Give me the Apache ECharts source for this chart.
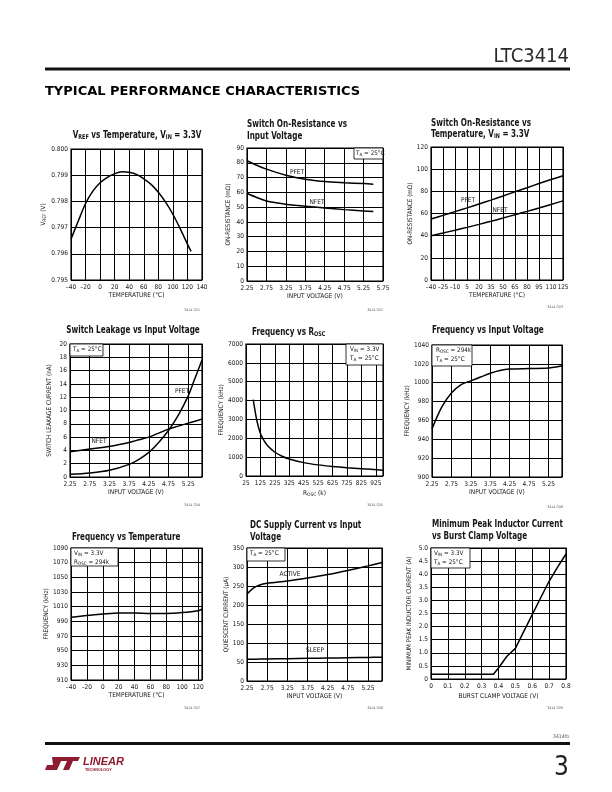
<!DOCTYPE html>
<html>
<head>
<meta charset="utf-8">
<title>LTC3414 Typical Performance Characteristics</title>
<script src="https://cdn.jsdelivr.net/npm/echarts@6/dist/echarts.min.js"></script>
<style>
  html, body { margin: 0; padding: 0; background: #fff; }
  #page { width: 612px; height: 792px; }
</style>
</head>
<body>
<div id="page"></div>
<script>
  // ---- data ----
  // G01 VREF vs temperature
  var g01Temp = [-40, -30, -20, -10, 0, 10, 20, 30, 40, 50, 60, 70, 80, 90, 100, 110, 120, 125];
  var g01Vref = [0.79656, 0.79725, 0.79792, 0.79839, 0.79871, 0.79892, 0.79906, 0.79913, 0.79911, 0.79903,
    0.79886, 0.79865, 0.79835, 0.79797, 0.79751, 0.79696, 0.79637, 0.79609];

  // G02 on-resistance vs input voltage
  var g02Vin = [2.25, 2.5, 2.75, 3.0, 3.25, 3.5, 3.75, 4.25, 4.75, 5.25, 5.5];
  var g02Pfet = [81.4, 78.3, 75.7, 73.5, 71.6, 70.1, 68.9, 67.3, 66.5, 65.9, 65.5];
  var g02Nfet = [59.4, 56.5, 54.2, 52.9, 51.9, 51.2, 50.6, 49.4, 48.3, 47.4, 47.0];

  // G03 on-resistance vs temperature
  var g03Temp = [-40, -25, -10, 5, 20, 35, 50, 65, 80, 95, 110, 125];
  var g03Pfet = [55, 58.3, 61.7, 65.1, 68.6, 72.1, 75.8, 79.6, 83.3, 87, 90.6, 94];
  var g03Nfet = [40, 42.4, 44.9, 47.5, 50.2, 53, 55.9, 58.9, 61.9, 65, 68.2, 71.4];

  // G04 switch leakage vs input voltage
  var g04Vin = [2.25, 2.75, 3.25, 3.75, 4.0, 4.25, 4.5, 4.75, 5.0, 5.25, 5.4, 5.6];
  var g04Pfet = [0.4, 0.6, 1.0, 1.9, 2.65, 3.7, 5.2, 7.0, 9.3, 12.2, 14.5, 17.6];
  var g04Nfet = [3.8, 4.2, 4.6, 5.2, 5.6, 6.0, 6.6, 7.2, 7.65, 8.1, 8.35, 8.7];

  // G05 frequency vs ROSC
  var g05Rosc = [75, 100, 125, 150, 175, 225, 275, 325, 425, 525, 625, 725, 825, 975];
  var g05Freq = [4050, 2950, 2250, 1870, 1600, 1260, 1050, 900, 710, 590, 505, 440, 390, 300];

  // G06 frequency vs input voltage
  var g06Vin = [2.25, 2.5, 2.75, 3.0, 3.25, 3.5, 3.75, 4.0, 4.25, 4.75, 5.25, 5.6];
  var g06Freq = [951, 974, 989, 998, 1002, 1006, 1010, 1013, 1014.5, 1015, 1015.5, 1018];

  // G07 frequency vs temperature
  var g07Temp = [-40, -20, 0, 20, 40, 60, 80, 100, 120, 125];
  var g07Freq = [995.5, 998, 1000, 1001.5, 1001.5, 1000.8, 1000.8, 1002, 1004.5, 1006.5];

  // G08 quiescent current vs input voltage
  var g08Vin = [2.25, 2.4, 2.55, 2.75, 3.25, 3.75, 4.25, 4.75, 5.25, 5.6];
  var g08Active = [229, 244, 252, 257, 263, 271, 280, 291, 303, 312];
  var g08Sleep = [57, 57.3, 57.6, 58, 58.8, 59.6, 60.4, 61.2, 62, 62.6];

  // G09 minimum peak inductor current vs burst clamp voltage
  var g09Vbc = [0, 0.1, 0.2, 0.3, 0.37, 0.4, 0.45, 0.5, 0.55, 0.6, 0.65, 0.7, 0.75, 0.8];
  var g09Ipk = [0.18, 0.18, 0.18, 0.18, 0.18, 0.42, 0.87, 1.17, 1.82, 2.46, 3.1, 3.73, 4.27, 4.77];

  // axis ranges [min, max, step]
  var xRanges = [[-40, 140, 20], [2.25, 5.75, 0.5], [-40, 125, 15], [2.25, 5.6, 0.5], [25, 975, 100],
    [2.25, 5.6, 0.5], [-40, 125, 20], [2.25, 5.6, 0.5], [0, 0.8, 0.1]];
  var yRanges = [[0.795, 0.800, 0.001], [0, 90, 10], [0, 120, 20], [0, 20, 2], [0, 7000, 1000],
    [900, 1040, 20], [910, 1090, 20], [0, 350, 50], [0, 5, 0.5]];

  var xNames = ['TEMPERATURE (°C)', 'INPUT VOLTAGE (V)', 'TEMPERATURE (°C)', 'INPUT VOLTAGE (V)', 'R{s|OSC} (k)',
    'INPUT VOLTAGE (V)', 'TEMPERATURE (°C)', 'INPUT VOLTAGE (V)', 'BURST CLAMP VOLTAGE (V)'];
  var yNames = ['V{s|REF} (V)', 'ON-RESISTANCE (mΩ)', 'ON-RESISTANCE (mΩ)', 'SWITCH LEAKAGE CURRENT (nA)',
    'FREQUENCY (kHz)', 'FREQUENCY (kHz)', 'FREQUENCY (kHz)', 'QUIESCENT CURRENT (µA)',
    'MINIMUM PEAK INDUCTOR CURRENT (A)'];

  var FONT = '"Liberation Sans Narrow", "DejaVu Sans Condensed", "Liberation Sans", sans-serif';
  var INK = '#151515';

  // plot boxes
  var boxes = [
    [71, 149, 131, 131], [247, 148, 136, 133], [431, 147, 132, 133],
    [70, 344, 132, 133], [246, 344, 137, 132], [432, 345, 130, 132],
    [71, 548, 131, 132], [247, 548, 135, 133], [431, 548, 135, 131]
  ];
  var yNameGap = [21, 16, 16, 18, 17, 21, 21, 15, 19];
  var xNameGap = [12, 12, 12, 11, 13, 11, 11, 12, 14];

  function pairs(xs, ys) {
    var out = [];
    for (var i = 0; i < xs.length; i++) out.push([xs[i], ys[i]]);
    return out;
  }

  function dash(v) { return String(v).replace('-', '–'); }

  // label text for each chart's x axis, blank at an off-step max
  function xLabel(i) {
    var r = xRanges[i];
    return function (v) {
      var steps = (r[1] - r[0]) / r[2];
      if (v === r[1] && Math.abs(steps - Math.round(steps)) > 1e-6) return '';
      if (i === 1 || i === 3 || i === 5 || i === 7) return v.toFixed(2);
      if (i === 8) return v === 0 ? '0' : v.toFixed(1);
      return dash(v);
    };
  }
  function yLabel(i) {
    return function (v) {
      if (i === 0) return v.toFixed(3);
      if (i === 8) return v === 0 ? '0' : v.toFixed(1);
      return String(v);
    };
  }

  var subRich = { s: { fontSize: 4.8, fontFamily: FONT, color: INK, padding: [3, 0, 0, 0] } };

  var grids = [], xAxes = [], yAxes = [];
  for (var i = 0; i < 9; i++) {
    var b = boxes[i];
    grids.push({ left: b[0], top: b[1], width: b[2], height: b[3], show: true,
      borderColor: '#000', borderWidth: 1.2, containLabel: false });
    xAxes.push({
      type: 'value', gridIndex: i, min: xRanges[i][0], max: xRanges[i][1], interval: xRanges[i][2],
      name: xNames[i], nameLocation: 'middle', nameGap: xNameGap[i],
      nameTextStyle: { fontFamily: FONT, fontSize: 6.5, color: INK, rich: subRich },
      axisLine: { show: false }, axisTick: { show: false },
      axisLabel: { fontFamily: FONT, fontSize: 6.5, color: INK, margin: 4, formatter: xLabel(i) },
      splitLine: { show: true, lineStyle: { color: '#000', width: 1 } }
    });
    yAxes.push({
      type: 'value', gridIndex: i, min: yRanges[i][0], max: yRanges[i][1], interval: yRanges[i][2],
      name: yNames[i], nameLocation: 'middle', nameGap: yNameGap[i], nameRotate: 90,
      nameTextStyle: { fontFamily: FONT, fontSize: 6.3, color: INK, rich: subRich },
      axisLine: { show: false }, axisTick: { show: false },
      axisLabel: { fontFamily: FONT, fontSize: 6.5, color: INK, margin: 3, formatter: yLabel(i) },
      splitLine: { show: true, lineStyle: { color: '#000', width: 1 } }
    });
  }

  function curve(i, xs, ys, smooth) {
    return {
      type: 'line', xAxisIndex: i, yAxisIndex: i, data: pairs(xs, ys),
      symbol: 'none', smooth: smooth === false ? false : 0.3,
      lineStyle: { color: '#000', width: 1.5 }, z: 5, silent: true
    };
  }

  var series = [
    curve(0, g01Temp, g01Vref),
    curve(1, g02Vin, g02Pfet), curve(1, g02Vin, g02Nfet),
    curve(2, g03Temp, g03Pfet), curve(2, g03Temp, g03Nfet),
    curve(3, g04Vin, g04Pfet), curve(3, g04Vin, g04Nfet),
    curve(4, g05Rosc, g05Freq),
    curve(5, g06Vin, g06Freq),
    curve(6, g07Temp, g07Freq),
    curve(7, g08Vin, g08Active), curve(7, g08Vin, g08Sleep),
    curve(8, g09Vbc, g09Ipk, false)
  ];

  // ---- text helpers for the graphic layer ----
  function font(size, weight) { return (weight || 'normal') + ' ' + size + 'px ' + FONT; }
  function txt(x, y, text, size, opt) {
    opt = opt || {};
    var subSize = opt.sub || size * 0.68;
    return {
      type: 'text', x: x, y: y, z: 100, silent: true, scaleX: opt.sx || 1,
      style: {
        text: text, font: font(size, opt.weight), fill: opt.color || INK,
        align: opt.align || 'left', verticalAlign: opt.valign || 'middle',
        lineHeight: opt.lineHeight,
        rich: {
          n: { font: font(size, opt.weight), fill: opt.color || INK, lineHeight: opt.lineHeight },
          s: { font: font(subSize, opt.weight), fill: opt.color || INK, padding: [size * 0.45, 0, 0, 0],
            lineHeight: opt.lineHeight }
        }
      }
    };
  }
  function noteBox(x, y, w, h, lines, tx) {
    var els = [{ type: 'rect', z: 90, silent: true, shape: { x: x, y: y, width: w, height: h },
      style: { fill: '#fff', stroke: '#000', lineWidth: 0.8 } }];
    for (var k = 0; k < lines.length; k++) {
      els.push(txt(tx, y + 5.5 + k * 8.5, lines[k], 6.3, { sub: 4.6 }));
    }
    return els;
  }

  var graphics = [];
  // page header
  graphics.push(txt(569, 57, 'LTC3414', 20, { align: 'right', color: '#2a2a2a' }));
  graphics.push({ type: 'rect', z: 100, shape: { x: 45, y: 67.5, width: 525, height: 3 }, style: { fill: '#111' } });
  graphics.push({ type: 'text', x: 45, y: 92, z: 100,
    style: { text: 'TYPICAL PERFORMANCE CHARACTERISTICS', font: 'bold 13px "DejaVu Sans", sans-serif',
      fill: '#000', verticalAlign: 'middle' } });

  // chart titles (squeezed to the datasheet's condensed face)
  var TS = 9.6, SX = 0.84;
  graphics.push(txt(137, 135, 'V{s|REF} vs Temperature, V{s|IN} = 3.3V', TS, { weight: 'bold', align: 'center', sx: SX }));
  graphics.push(txt(247, 118, 'Switch On-Resistance vs\nInput Voltage', TS, { weight: 'bold', valign: 'top', lineHeight: 12, sx: SX }));
  graphics.push(txt(431, 118, 'Switch On-Resistance vs\nTemperature, V{s|IN} = 3.3V', TS, { weight: 'bold', valign: 'top', lineHeight: 11, sx: SX }));
  graphics.push(txt(133, 330, 'Switch Leakage vs Input Voltage', TS, { weight: 'bold', align: 'center', sx: SX }));
  graphics.push(txt(252, 332, 'Frequency vs R{s|OSC}', TS, { weight: 'bold', sx: SX }));
  graphics.push(txt(432, 330, 'Frequency vs Input Voltage', TS, { weight: 'bold', sx: SX }));
  graphics.push(txt(72, 537, 'Frequency vs Temperature', TS, { weight: 'bold', sx: SX }));
  graphics.push(txt(250, 519, 'DC Supply Current vs Input\nVoltage', TS, { weight: 'bold', valign: 'top', lineHeight: 12, sx: SX }));
  graphics.push(txt(432, 518, 'Minimum Peak Inductor Current\nvs Burst Clamp Voltage', TS, { weight: 'bold', valign: 'top', lineHeight: 12, sx: SX }));

  // condition boxes
  graphics = graphics.concat(noteBox(354, 148, 29, 11, ['T{s|A} = 25°C'], 356));
  graphics = graphics.concat(noteBox(70, 344, 33, 12, ['T{s|A} = 25°C'], 73));
  graphics = graphics.concat(noteBox(346, 344, 37, 21, ['V{s|IN} = 3.3V', 'T{s|A} = 25°C'], 350));
  graphics = graphics.concat(noteBox(432, 345, 40, 21, ['R{s|OSC} = 294k', 'T{s|A} = 25°C'], 436));
  graphics = graphics.concat(noteBox(71, 548, 47, 18, ['V{s|IN} = 3.3V', 'R{s|OSC} = 294k'], 74));
  graphics = graphics.concat(noteBox(247, 548, 38, 13, ['T{s|A} = 25°C'], 250));
  graphics = graphics.concat(noteBox(431, 548, 39, 20, ['V{s|IN} = 3.3V', 'T{s|A} = 25°C'], 434));

  // curve labels
  graphics.push(txt(297, 172, 'PFET', 6.5, { align: 'center' }));
  graphics.push(txt(317, 202, 'NFET', 6.5, { align: 'center' }));
  graphics.push(txt(468, 200, 'PFET', 6.5, { align: 'center' }));
  graphics.push(txt(500, 210, 'NFET', 6.5, { align: 'center' }));
  graphics.push(txt(182, 391, 'PFET', 6.5, { align: 'center' }));
  graphics.push(txt(99, 441, 'NFET', 6.5, { align: 'center' }));
  graphics.push(txt(290, 574, 'ACTIVE', 6.5, { align: 'center' }));
  graphics.push(txt(315, 650, 'SLEEP', 6.5, { align: 'center' }));

  // figure numbers
  var figIds = [[200, 310, 'G01'], [383, 310, 'G02'], [563, 307, 'G03'], [200, 505, 'G04'], [383, 505, 'G05'],
    [563, 507, 'G06'], [200, 708, 'G07'], [383, 708, 'G08'], [563, 708, 'G09']];
  for (var f = 0; f < figIds.length; f++) {
    graphics.push(txt(figIds[f][0], figIds[f][1], '3414 ' + figIds[f][2], 3.6, { align: 'right', color: '#666' }));
  }

  // page footer
  graphics.push(txt(569, 737, '3414fb', 5, { align: 'right', color: '#555' }));
  graphics.push({ type: 'rect', z: 100, shape: { x: 45, y: 742, width: 525, height: 3 }, style: { fill: '#111' } });
  graphics.push(txt(569, 768, '3', 26, { align: 'right', color: '#222' }));
  // Linear Technology mark (rough)
  graphics.push({ type: 'polygon', z: 100, shape: { points: [[52, 757], [63, 757], [57, 770], [45, 770], [47, 765], [53, 765]] },
    style: { fill: '#8e1b2f' } });
  graphics.push({ type: 'polygon', z: 100, shape: { points: [[62, 757], [80, 757], [78, 761], [73, 761], [69, 770], [63, 770], [67, 761], [60, 761]] },
    style: { fill: '#8e1b2f' } });
  graphics.push({ type: 'text', x: 83, y: 762, z: 100,
    style: { text: 'LINEAR', font: 'italic bold 11px "Liberation Sans Narrow", sans-serif', fill: '#8e1b2f', verticalAlign: 'middle' } });
  graphics.push({ type: 'text', x: 85, y: 769.5, z: 100,
    style: { text: 'TECHNOLOGY', font: 'bold 3.8px "Liberation Sans", sans-serif', fill: '#8e1b2f', verticalAlign: 'middle' } });

  var chart = echarts.init(document.getElementById('page'), null, { renderer: 'canvas' });
  chart.setOption({
    animation: false,
    backgroundColor: '#fff',
    textStyle: { fontFamily: FONT },
    grid: grids,
    xAxis: xAxes,
    yAxis: yAxes,
    series: series,
    graphic: graphics
  });
</script>
</body>
</html>
